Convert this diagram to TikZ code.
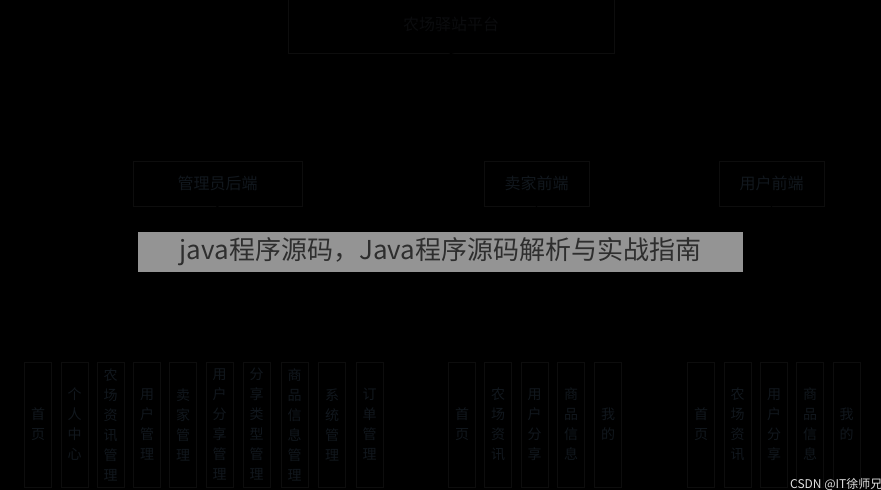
\documentclass[tikz,border=0pt]{standalone}
\usepackage{fontspec}
\setmainfont{Noto Sans CJK SC}
\usetikzlibrary{positioning}
\definecolor{boxline}{RGB}{13,13,13}
\definecolor{boxtext}{RGB}{17,23,29}
\definecolor{titletext}{RGB}{11,12,14}
\definecolor{bannergray}{RGB}{148,148,148}
\definecolor{bannertext}{RGB}{46,46,46}
\definecolor{marktext}{RGB}{225,225,225}
\begin{document}
\begin{tikzpicture}[x=1pt,y=-1pt,
  box/.style={draw=boxline,line width=0.8pt,text=boxtext,inner sep=0pt},
  midbox/.style={box,minimum width=105pt,minimum height=45pt,font=\fontsize{16}{19}\selectfont},
  leafbox/.style={box,minimum width=27pt,minimum height=125pt,align=center,font=\fontsize{14}{20}\selectfont},
  link/.style={draw=black,line width=0.8pt}]
\fill[black] (0,0) rectangle (881,490);
\useasboundingbox (0,0) rectangle (881,490);
% top level
\node[box,text=titletext,minimum width=326pt,minimum height=58pt,font=\fontsize{16}{19}\selectfont] (plat) at (451,24) {农场驿站平台};
% second level
\node[midbox,minimum width=169pt] (admin) at (217.5,183.5) {管理员后端};
\node[midbox] (seller) at (536.5,183.5) {卖家前端};
\node[midbox] (user) at (771.5,183.5) {用户前端};
\draw[link] (plat.south) -- (admin.north);
\draw[link] (plat.south) -- (seller.north);
\draw[link] (plat.south) -- (user.north);
% admin leaves
\node[leafbox] (a1) at (38,424.5) {首\\页};
\node[leafbox] (a2) at (74.5,424.5) {个\\人\\中\\心};
\node[leafbox] (a3) at (110.5,424.5) {农\\场\\资\\讯\\管\\理};
\node[leafbox] (a4) at (147,424.5) {用\\户\\管\\理};
\node[leafbox] (a5) at (183,424.5) {卖\\家\\管\\理};
\node[leafbox] (a6) at (219.5,424.5) {用\\户\\分\\享\\管\\理};
\node[leafbox] (a7) at (256.5,424.5) {分\\享\\类\\型\\管\\理};
\node[leafbox] (a8) at (294.5,424.5) {商\\品\\信\\息\\管\\理};
\node[leafbox] (a9) at (332,424.5) {系\\统\\管\\理};
\node[leafbox] (a10) at (369.5,424.5) {订\\单\\管\\理};
% seller leaves
\node[leafbox] (s1) at (462,424.5) {首\\页};
\node[leafbox] (s2) at (498,424.5) {农\\场\\资\\讯};
\node[leafbox] (s3) at (534.5,424.5) {用\\户\\分\\享};
\node[leafbox] (s4) at (571,424.5) {商\\品\\信\\息};
\node[leafbox] (s5) at (608,424.5) {我\\的};
% user leaves
\node[leafbox] (u1) at (701,424.5) {首\\页};
\node[leafbox] (u2) at (737.5,424.5) {农\\场\\资\\讯};
\node[leafbox] (u3) at (774,424.5) {用\\户\\分\\享};
\node[leafbox] (u4) at (810,424.5) {商\\品\\信\\息};
\node[leafbox] (u5) at (846.5,424.5) {我\\的};
\foreach \n in {a1,a2,a3,a4,a5,a6,a7,a8,a9,a10}
  \draw[link] (admin.south) -- (\n.north);
\foreach \n in {s1,s2,s3,s4,s5}
  \draw[link] (seller.south) -- (\n.north);
\foreach \n in {u1,u2,u3,u4,u5}
  \draw[link] (user.south) -- (\n.north);
% overlay banner and mark
\node[fill=bannergray,text=bannertext,minimum width=605pt,minimum height=40pt,inner sep=0pt,font=\fontsize{26}{29}\selectfont] (banner) at (440.5,252) {java程序源码，Java程序源码解析与实战指南};
\node[anchor=west,inner sep=0pt,text=marktext,font=\fontsize{12}{14}\selectfont] (mark) at (790,484) {CSDN @IT徐师兄};
\end{tikzpicture}
\end{document}
